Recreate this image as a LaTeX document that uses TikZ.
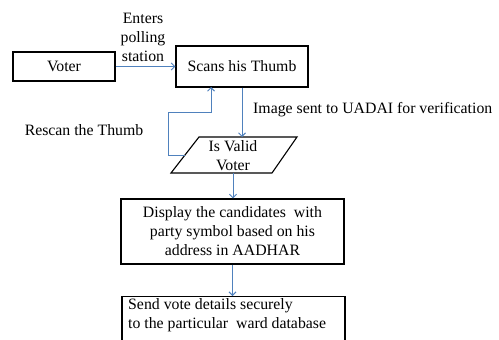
\documentclass[tikz,border=0pt]{standalone}
\usepackage{fontspec}
\setmainfont{Liberation Serif}
\usetikzlibrary{arrows.meta,calc}
\definecolor{conn}{HTML}{4F81BD}
\tikzset{
  box/.style={draw=black,line width=1.1pt,inner sep=0pt,align=center},
  lbl/.style={inner sep=0pt,align=center},
  conline/.style={draw=conn,line width=1pt,-{Straight Barb[length=3.5pt,width=7pt]}},
}
\begin{document}
\begin{tikzpicture}[x=1pt,y=-1pt,font=\fontsize{15.8}{19}\selectfont]
\clip (0,0) rectangle (499,340);
\fill[white] (0,0) rectangle (499,340);
\node[box,minimum width=102pt,minimum height=29pt] (voter) at (64,66.5) {Voter};
\node[box,minimum width=132pt,minimum height=41pt] (scan) at (242,66.5) {Scans his Thumb};
\coordinate (p1) at (199,137);
\coordinate (p2) at (297,137);
\coordinate (p3) at (272,173);
\coordinate (p4) at (171,173);
\coordinate (vleft) at (185,155);
\draw[line width=1.1pt] (p1) -- (p2) -- (p3) -- (p4) -- cycle;
\node[lbl] (valid) at (233,155.5) {Is Valid\\Voter};
\node[box,minimum width=223pt,minimum height=65pt] (display) at (232.5,231.5) {Display the candidates\ \ with\\party symbol based on his\\address in AADHAR};
\node[box,minimum width=223pt,minimum height=56pt,anchor=north] (send) at (233.5,296) {};
\node[lbl,align=left,anchor=north west] (sendtxt) at (128,298) {Send vote details\ securely\\to the particular\ \ ward database};
\node[lbl] (enters) at (143,37) {Enters\\polling\\station};
\node[lbl,anchor=west] (image) at (253,110) {Image sent to UADAI for verification};
\node[lbl] (rescan) at (84,130) {Rescan the Thumb};
\path[conline] (voter.east) -- (scan.west);
\path[conline] (scan.south) -- (scan.south |- p1);
\path[conline] (vleft) -- ++(-17,0) |- (211,112) -- (211,87);
\path[conline] (valid.south |- p4) -- (valid.south |- display.north);
\path[conline] (display.south) -- (display.south |- send.north);
\end{tikzpicture}
\end{document}
